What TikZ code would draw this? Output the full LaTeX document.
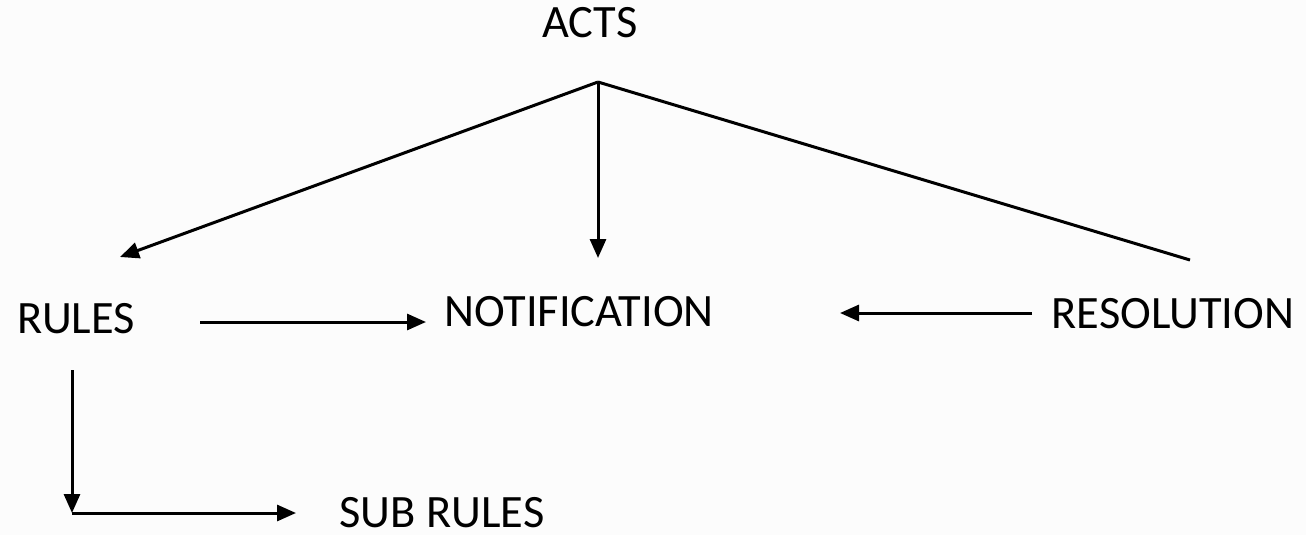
\documentclass[tikz,border=0pt]{standalone}
\usepackage{fontspec}
\setmainfont{Carlito}
\usetikzlibrary{arrows.meta}
\definecolor{bgcol}{RGB}{252,252,252}
\begin{document}
\begin{tikzpicture}[x=0.5pt,y=-0.5pt,
  lbl/.style={font=\fontsize{23.2}{27}\selectfont, inner sep=0pt, anchor=base, text depth=0pt},
  conn/.style={line width=1.5pt, -{Triangle[length=9.5pt,width=8pt]}},
  plain/.style={line width=1.5pt}]
\fill[bgcol] (0,0) rectangle (1306,535);
\useasboundingbox (0,0) rectangle (1306,535);
% texts
\node[lbl] (acts) at (590,38) {ACTS};
\node[lbl] (rules) at (76,333) {RULES};
\node[lbl] (notif) at (579,326) {NOTIFICATION};
\node[lbl] (resol) at (1173,328) {RESOLUTION};
\node[lbl] (sub) at (442,527) {SUB RULES};
% connector points
\coordinate (apex) at (598,82);
\coordinate (rtip) at (120,257);
\coordinate (ntip) at (598,258);
\coordinate (rend) at (1190,260);
\coordinate (a1s) at (200,322);
\coordinate (a1e) at (426,322);
\coordinate (a2s) at (1032,313);
\coordinate (a2e) at (840,313);
\coordinate (vs) at (72,370);
\coordinate (corner) at (72,513);
\coordinate (htip) at (296,513);
% connectors
\draw[conn] (apex) -- (rtip);
\draw[conn] (apex) -- (ntip);
\draw[plain] (apex) -- (rend);
\draw[conn] (a1s) -- (a1e);
\draw[conn] (a2s) -- (a2e);
\draw[conn] (vs) -- (corner);
\draw[conn] (corner) -- (htip);
\end{tikzpicture}
\end{document}
